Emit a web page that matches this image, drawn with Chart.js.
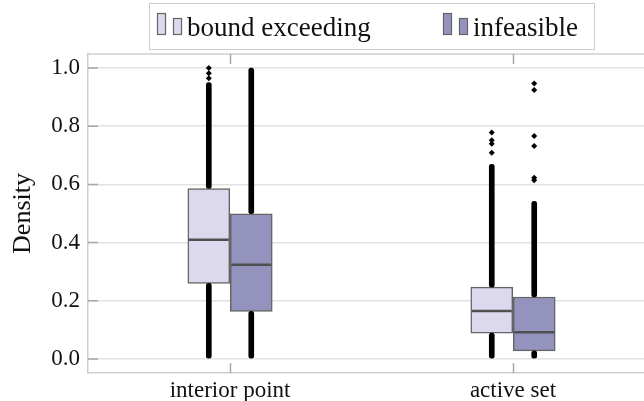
<!DOCTYPE html>
<html lang="en">
<head>
    <meta charset="UTF-8">
    <title>Density by solver</title>
    <style>
        body { margin: 0; padding: 0; background: #ffffff; }
        #wrap { width: 644px; height: 401px; }
    </style>
</head>
<body>
<div id="wrap"><canvas id="boxChart" width="644" height="401"></canvas></div>

<script src="https://cdn.jsdelivr.net/npm/chart.js"></script>
<script>
// categories and series
const categories = ['interior point', 'active set'];
const seriesNames = ['bound exceeding', 'infeasible'];
const yTicks = [0.0, 0.2, 0.4, 0.6, 0.8, 1.0];

// box statistics per category
const beQ1 = [0.260, 0.089];
const beMed = [0.410, 0.165];
const beQ3 = [0.586, 0.247];
const infQ1 = [0.164, 0.028];
const infMed = [0.324, 0.092];
const infQ3 = [0.499, 0.213];

// outliers that are so dense they read as a solid streak [from, to]
const beLowRuns = [[0.003, 0.260], [0.000, 0.089]];
const beHighRuns = [[0.586, 0.950], [0.247, 0.669]];
const infLowRuns = [[0.000, 0.164], [0.000, 0.028]];
const infHighRuns = [[0.499, 1.000], [0.213, 0.542]];

// isolated outliers
const beSparse = [[0.965, 0.982, 1.000], [0.709, 0.740, 0.752, 0.778]];
const infSparse = [[], [0.614, 0.623, 0.732, 0.766, 0.924, 0.947]];

// styles
const beColor = '#dcd9ee';
const infColor = '#9493bd';
const edgeColor = '#646464';
const medianColor = '#4f4f4f';
const gridColor = '#e2e2e2';
const axisColor = '#cfcfcf';
const serif = "'Liberation Serif', 'DejaVu Serif', serif";
const dodge = 0.075;     // half the spacing of the two boxes, category units
const boxPx = 42;

function boxes(q1, q3, side) {
    return q1.map((v, i) => ({ x: i + side * dodge, y: [v, q3[i]] }));
}
function runs(list, side) {
    return list.map((r, i) => ({ x: i + side * dodge, y: r }));
}
function points(vals, side) {
    return vals.map((v, i) => ({ x: i + side * dodge, y: v }));
}
function sparse(lists, side) {
    return lists.flatMap((vals, i) => vals.map(v => ({ x: i + side * dodge, y: v })));
}

const streak = {
    type: 'bar', grouped: false, barThickness: 5, backgroundColor: '#000000',
    borderRadius: 3, borderSkipped: false, order: 1
};
const dots = {
    type: 'scatter', pointStyle: 'rectRot', pointRadius: 3, pointHoverRadius: 3,
    backgroundColor: '#000000', borderColor: '#000000', borderWidth: 0, order: 1
};
const medianStyle = {
    type: 'scatter', pointStyle: 'line', pointRadius: boxPx / 2 - 1, pointHoverRadius: boxPx / 2 - 1,
    borderColor: medianColor, borderWidth: 2.5, order: 2
};

// inward ticks, top frame line and the framed legend
const decorations = {
    id: 'decorations',
    afterDraw(chart) {
        const ctx = chart.ctx;
        const area = chart.chartArea;
        const xs = chart.scales.x, ys = chart.scales.y;
        ctx.save();
        ctx.strokeStyle = axisColor;
        ctx.lineWidth = 1.5;
        ctx.beginPath();
        ctx.moveTo(area.left, area.top);
        ctx.lineTo(area.right, area.top);
        ctx.stroke();

        ctx.strokeStyle = '#a8a8a8';
        ctx.beginPath();
        categories.forEach((c, i) => {
            const px = Math.round(xs.getPixelForValue(i)) + 0.5;
            ctx.moveTo(px, area.top); ctx.lineTo(px, area.top + 10);
            ctx.moveTo(px, area.bottom); ctx.lineTo(px, area.bottom - 10);
        });
        yTicks.forEach(v => {
            const py = ys.getPixelForValue(v);
            ctx.moveTo(area.left, py); ctx.lineTo(area.left + 10, py);
        });
        ctx.stroke();

        // legend
        ctx.strokeStyle = '#cccccc';
        ctx.lineWidth = 1;
        ctx.strokeRect(149.5, 3.5, 445, 46);
        const starts = [157, 443];
        const fills = [beColor, infColor];
        ctx.font = '27px ' + serif;
        ctx.textBaseline = 'alphabetic';
        seriesNames.forEach((name, i) => {
            const x0 = starts[i];
            ctx.fillStyle = fills[i];
            ctx.strokeStyle = edgeColor;
            ctx.lineWidth = 1.2;
            ctx.fillRect(x0, 13, 9, 22);
            ctx.strokeRect(x0 + 0.5, 13.5, 8, 21);
            ctx.fillRect(x0 + 16, 18, 9, 17);
            ctx.strokeRect(x0 + 16.5, 18.5, 8, 16);
            ctx.fillStyle = '#111111';
            ctx.fillText(name, x0 + 30, 36);
        });
        ctx.restore();
    }
};

new Chart(document.getElementById('boxChart'), {
    type: 'bar',
    data: {
        datasets: [
            { label: seriesNames[0], data: boxes(beQ1, beQ3, -1), grouped: false, barThickness: boxPx,
              backgroundColor: beColor, borderColor: edgeColor, borderWidth: 1.5, borderSkipped: false, order: 3 },
            { label: seriesNames[1], data: boxes(infQ1, infQ3, 1), grouped: false, barThickness: boxPx,
              backgroundColor: infColor, borderColor: edgeColor, borderWidth: 1.5, borderSkipped: false, order: 3 },
            Object.assign({ label: 'be median', data: points(beMed, -1) }, medianStyle),
            Object.assign({ label: 'inf median', data: points(infMed, 1) }, medianStyle),
            Object.assign({ label: 'be low', data: runs(beLowRuns, -1) }, streak),
            Object.assign({ label: 'be high', data: runs(beHighRuns, -1) }, streak),
            Object.assign({ label: 'inf low', data: runs(infLowRuns, 1) }, streak),
            Object.assign({ label: 'inf high', data: runs(infHighRuns, 1) }, streak),
            Object.assign({ label: 'be sparse', data: sparse(beSparse, -1) }, dots),
            Object.assign({ label: 'inf sparse', data: sparse(infSparse, 1) }, dots)
        ]
    },
    options: {
        responsive: false,
        animation: false,
        devicePixelRatio: 1,
        layout: { autoPadding: false, padding: { top: 54, right: 0, left: 0, bottom: 0 } },
        plugins: { legend: { display: false }, tooltip: { enabled: false } },
        scales: {
            x: {
                type: 'linear',
                min: -0.502,
                max: 1.463,
                offset: false,
                afterBuildTicks: s => { s.ticks = categories.map((c, i) => ({ value: i })); },
                afterFit: s => { s.height = 28; },
                ticks: {
                    callback: v => categories[v],
                    font: { family: serif, size: 23 },
                    color: '#111111',
                    padding: -4,
                    maxRotation: 0,
                    autoSkip: false
                },
                grid: { display: false },
                border: { display: true, color: axisColor, width: 1.5 }
            },
            y: {
                min: -0.048,
                max: 1.048,
                afterBuildTicks: s => { s.ticks = yTicks.map(v => ({ value: v })); },
                afterFit: s => { s.width = 88; },
                ticks: {
                    callback: v => v.toFixed(1),
                    font: { family: serif, size: 23 },
                    color: '#111111',
                    padding: 8
                },
                grid: { color: gridColor, lineWidth: 1.5, drawTicks: false },
                border: { display: true, color: axisColor, width: 1.5 },
                title: {
                    display: true,
                    text: 'Density',
                    font: { family: serif, size: 26 },
                    color: '#111111',
                    padding: { top: 8, bottom: 0 }
                }
            }
        }
    },
    plugins: [decorations]
});
</script>
</body>
</html>
